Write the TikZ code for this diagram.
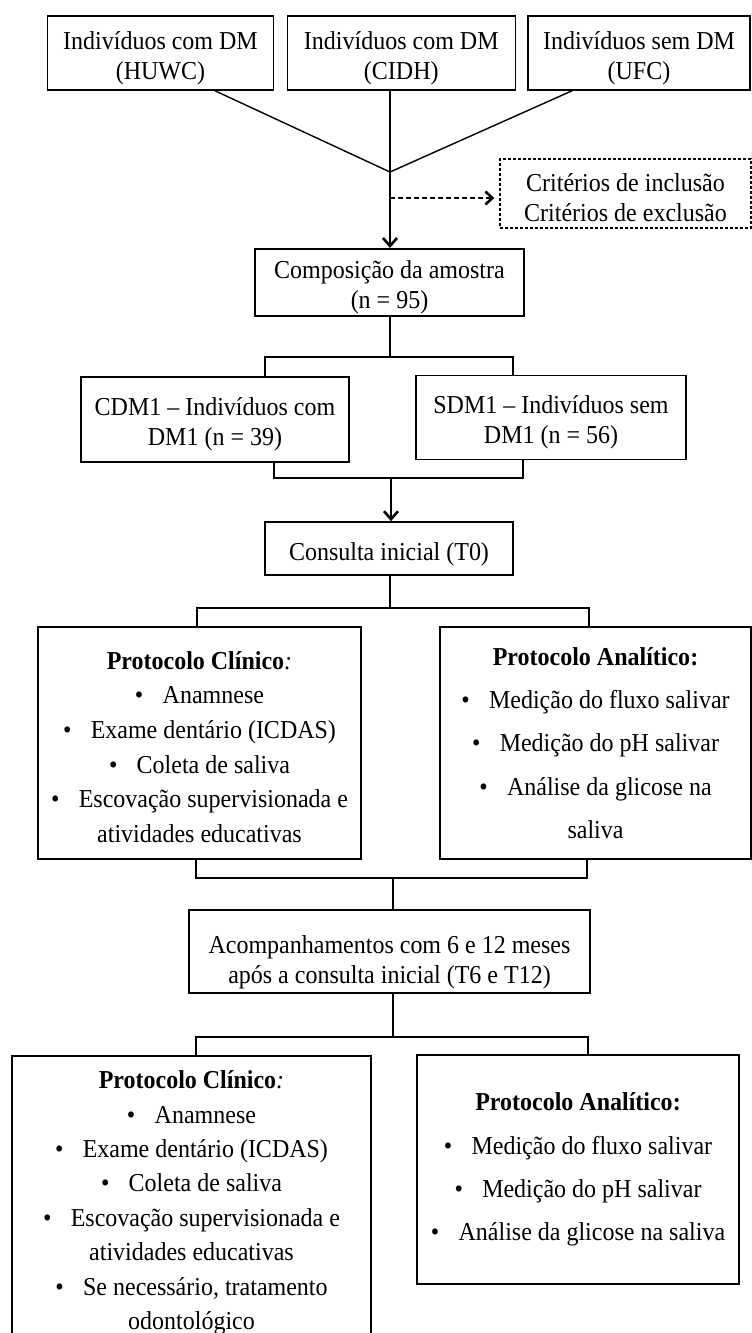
\documentclass[tikz,border=0pt]{standalone}
\usepackage{fontspec}
\setmainfont{Liberation Serif}[FakeStretch=0.93]
\usetikzlibrary{positioning,arrows.meta}
\newcommand{\dropht}{0pt}
\tikzset{
  textdrop/.code={\renewcommand{\dropht}{#1}},
  dropped/.style={execute at begin node={\rule{0pt}{\dropht}}},
  plainbox/.style={draw, line width=1.6pt, align=center, inner sep=2pt, font=\fontsize{25.8}{30}\selectfont, dropped, textdrop=59pt},
  critbox/.style={draw, dash pattern=on 3pt off 2pt, line width=1.4pt, align=center, inner sep=2pt, font=\fontsize{25.8}{30}\selectfont, dropped, textdrop=56pt},
  protbox/.style={draw, line width=1.6pt, align=center, inner sep=2pt, font=\fontsize{25.8}{34.6}\selectfont, dropped, textdrop=199pt},
  wideprot/.style={draw, line width=1.6pt, align=center, inner sep=2pt, font=\fontsize{25.8}{43.4}\selectfont},
  link/.style={line width=1.4pt},
  bracket/.style={line width=2.5pt},
  flowarrow/.style={-{Straight Barb[length=8pt,width=14pt,line width=2.6pt]}, line width=1.4pt},
  dasharrow/.style={-{Straight Barb[length=7pt,width=13pt,line width=2.6pt]}, dash pattern=on 5pt off 3pt, line width=1.4pt, shorten >=5pt}
}
\newcommand{\itm}{\textbullet\hspace{0.75em}}

\begin{document}
\begin{tikzpicture}[x=1pt, y=-1pt]
  \useasboundingbox (0,0) rectangle (752,1333);
  \clip (0,0) rectangle (752,1333);
  % sources
  \node[plainbox, minimum width=226pt, minimum height=74pt] (src1) at (160.5,53) {Indivíduos com DM\\(HUWC)};
  \node[plainbox, minimum width=228pt, minimum height=74pt] (src2) at (401.3,53) {Indivíduos com DM\\(CIDH)};
  \node[plainbox, minimum width=222pt, minimum height=74pt] (src3) at (639,53) {Indivíduos sem DM\\(UFC)};
  \coordinate (jn) at (390,172);
  \coordinate (dsrc) at (390,198);
  \node[critbox, minimum width=251pt, minimum height=69pt] (crit) at (625.5,193.5) {Critérios de inclusão\\Critérios de exclusão};
  \node[plainbox, minimum width=269pt, minimum height=67pt, textdrop=58pt] (comp) at (389.5,282.5) {Composição da amostra\\(n = 95)};
  % groups
  \node[plainbox, minimum width=268pt, minimum height=85pt, textdrop=58pt] (cdm) at (215,419.5) {CDM1 -- Indivíduos com\\DM1 (n = 39)};
  \node[plainbox, minimum width=270pt, minimum height=84pt, textdrop=58pt] (sdm) at (551,417.5) {SDM1 -- Indivíduos sem\\DM1 (n = 56)};
  \node[plainbox, minimum width=248pt, minimum height=53pt, textdrop=30pt] (cons) at (389,548.5) {Consulta inicial (T0)};
  % protocols T0
  \node[protbox, minimum width=323pt, minimum height=232pt] (clinA) at (199.5,743) {\textbf{Protocolo Clínico}\textit{:}\\\itm Anamnese\\\itm Exame dentário (ICDAS)\\\itm Coleta de saliva\\\itm Escovação supervisionada e\\atividades educativas};
  \node[wideprot, minimum width=311pt, minimum height=232pt] (analA) at (595.5,743) {\textbf{Protocolo Analítico:}\\\itm Medição do fluxo salivar\\\itm Medição do pH salivar\\\itm Análise da glicose na\\saliva};
  \node[plainbox, minimum width=401pt, minimum height=83pt, textdrop=70pt] (acomp) at (389.5,951.5) {Acompanhamentos com 6 e 12 meses\\após a consulta inicial (T6 e T12)};
  % protocols T6 / T12
  \node[protbox, anchor=north, minimum width=359pt, minimum height=286pt, font=\fontsize{25.8}{34.4}\selectfont, textdrop=267pt] (clinB) at (191.5,1055) {\textbf{Protocolo Clínico}\textit{:}\\\itm Anamnese\\\itm Exame dentário (ICDAS)\\\itm Coleta de saliva\\\itm Escovação supervisionada e\\atividades educativas\\\itm Se necessário, tratamento\\odontológico};
  \node[wideprot, minimum width=322pt, minimum height=229pt, font=\fontsize{25.8}{43.3}\selectfont] (analB) at (578,1169.5) {\textbf{Protocolo Analítico:}\\\itm Medição do fluxo salivar\\\itm Medição do pH salivar\\\itm Análise da glicose na saliva};

  % bracket corners
  \coordinate (b1l) at (265,357);  \coordinate (b1r) at (513,357);
  \coordinate (b2l) at (274,478);  \coordinate (b2r) at (523,478);
  \coordinate (b2m) at (391,478);
  \coordinate (b3l) at (197,608);  \coordinate (b3r) at (589,608);
  \coordinate (b4l) at (196,878);  \coordinate (b4r) at (587,878);
  \coordinate (b4m) at (393,878);
  \coordinate (b5l) at (196,1037); \coordinate (b5r) at (588,1037);

  \draw[link] (src1.south -| 215,0) -- (jn);
  \draw[link] (src3.south -| 572,0) -- (jn);
  \draw[link] (src2.south -| jn) -- (jn);
  \draw[flowarrow] (jn) -- (comp.north -| jn);
  \draw[dasharrow] (dsrc) -- (dsrc -| crit.west);

  \draw[link] (comp.south -| jn) -- (jn |- b1l);
  \draw[bracket] (b1l |- cdm.north) -- (b1l) -- (b1r) -- (b1r |- sdm.north);
  \draw[bracket] (b2l |- cdm.south) -- (b2l) -- (b2r) -- (b2r |- sdm.south);
  \draw[flowarrow] (b2m) -- (b2m |- cons.north);

  \draw[link] (cons.south -| jn) -- (jn |- b3l);
  \draw[bracket] (b3l |- clinA.north) -- (b3l) -- (b3r) -- (b3r |- analA.north);
  \draw[bracket] (b4l |- clinA.south) -- (b4l) -- (b4r) -- (b4r |- analA.south);
  \draw[link] (b4m) -- (b4m |- acomp.north);

  \draw[link] (acomp.south -| b4m) -- (b4m |- b5l);
  \draw[bracket] (b5l |- clinB.north) -- (b5l) -- (b5r) -- (b5r |- analB.north);
\end{tikzpicture}
\end{document}
